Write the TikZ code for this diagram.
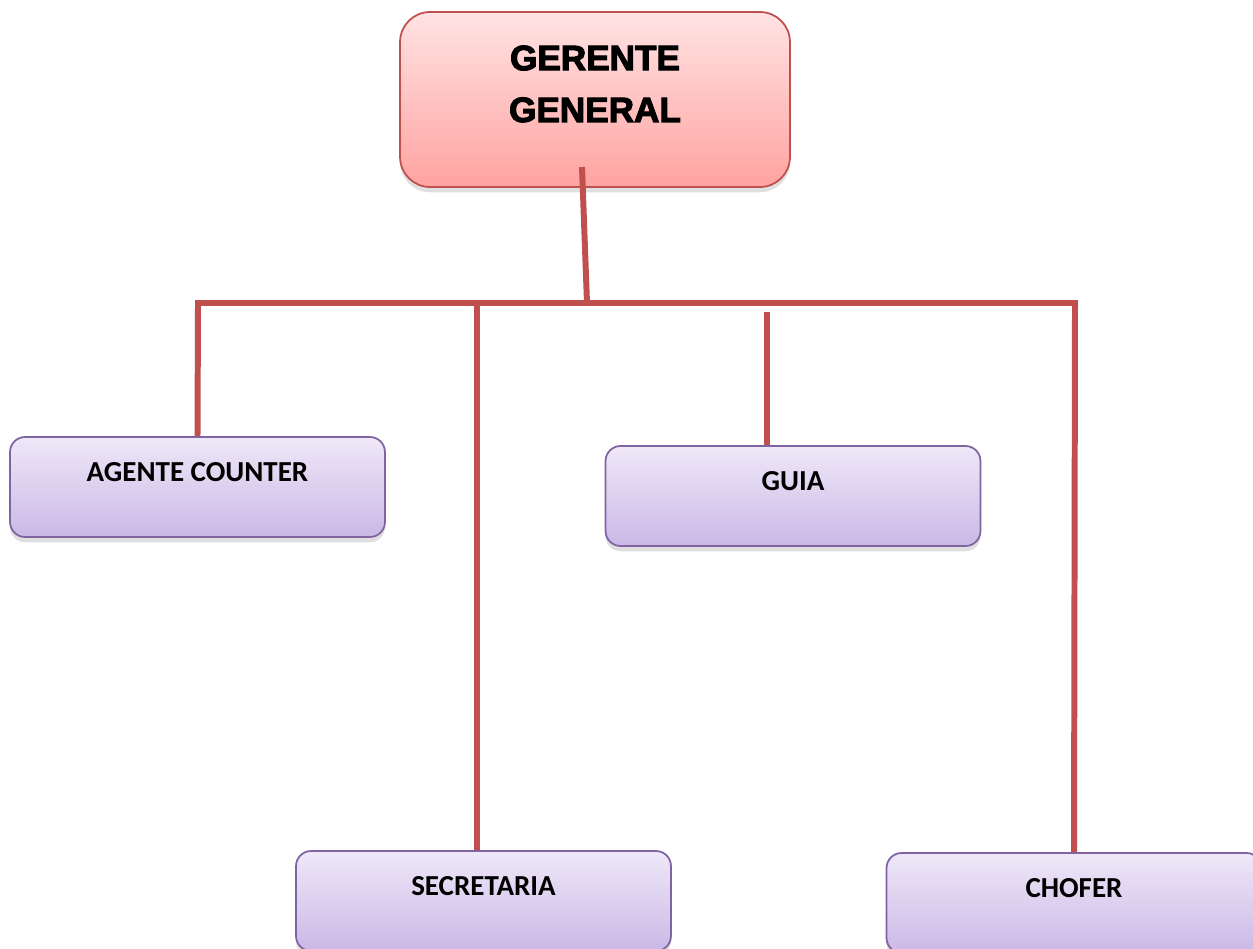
\documentclass[tikz,border=0pt]{standalone}
\usepackage{fontspec}
\setmainfont{Carlito}
\newfontfamily\headfont{Liberation Sans}[BoldFeatures={FakeBold=3}]
\usetikzlibrary{shadows}

\definecolor{linkred}{HTML}{C0504D}
\definecolor{bossedge}{HTML}{C0504D}
\definecolor{bosstop}{HTML}{FFE3E3}
\definecolor{bossbot}{HTML}{FFA3A1}
\definecolor{staffedge}{HTML}{8064A2}
\definecolor{stafftop}{HTML}{EEE8F8}
\definecolor{staffbot}{HTML}{CBB8E6}

\tikzset{
  boss/.style={draw=bossedge, line width=1pt, rounded corners=0.6cm,
    top color=bosstop, bottom color=bossbot,
    minimum width=7.8cm, minimum height=3.5cm, align=center,
    text height=40pt, text depth=14.4pt,
    font=\headfont\bfseries\fontsize{20}{29.5}\selectfont,
    drop shadow={shadow xshift=0pt, shadow yshift=-3pt, opacity=0.25}},
  staff/.style={draw=staffedge, line width=1pt, rounded corners=0.3cm,
    top color=stafftop, bottom color=staffbot,
    minimum width=7.5cm, minimum height=2cm,
    text height=12pt, text depth=18.8pt,
    font=\bfseries\fontsize{16.5}{19}\selectfont,
    drop shadow={shadow xshift=0pt, shadow yshift=-3pt, opacity=0.25}},
  link/.style={draw=linkred, line width=3.4pt}
}

\begin{document}
\begin{tikzpicture}[x=0.02cm, y=-0.02cm]
	\useasboundingbox (0,0) rectangle (1253,949);

	\node[boss] (gerente) at (595,99.5) {GERENTE\\GENERAL};

	\node[staff] (agente) at (197.5,487) {AGENTE COUNTER};
	\node[staff] (guia) at (793,496) {GUIA};
	\node[staff] (secretaria) at (483.5,901) {SECRETARIA};
	\node[staff] (chofer) at (1074,903) {CHOFER};

	\coordinate (stem) at (582,167);
	\coordinate (hub) at (587,303);
	\coordinate (busL) at (198,303);
	\coordinate (busR) at (1075,303);
	\coordinate (jS) at (477,303);
	\coordinate (jG) at (767,312);

	\draw[link] (stem) -- (hub);
	\draw[link, line cap=rect] (busL) -- (busR);

	\draw[link] (busL) -- (agente.north);
	\draw[link] (jS) -- (jS |- secretaria.north);
	\draw[link] (jG) -- (jG |- guia.north);
	\draw[link] (busR) -- (chofer.north);

\end{tikzpicture}
\end{document}
